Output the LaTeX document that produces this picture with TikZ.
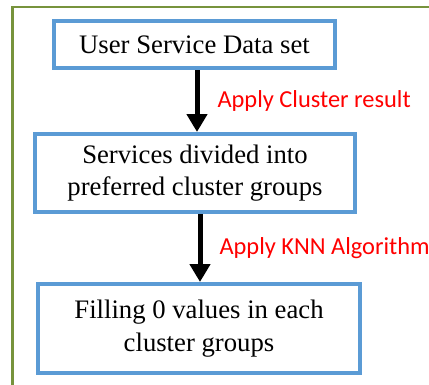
\documentclass[tikz,border=0pt]{standalone}
\usepackage{fontspec}
\setmainfont{Liberation Serif}
\newfontfamily\lblfont{Carlito}
\usepackage{xcolor}
\usetikzlibrary{positioning,arrows.meta}

\definecolor{framegreen}{HTML}{77933C}
\definecolor{boxblue}{HTML}{5B9BD5}

\tikzset{
	stepbox/.style={draw=boxblue, line width=4bp, fill=white, align=center, inner sep=0pt,
		font=\fontsize{26.8}{32.5}\selectfont},
	flow/.style={line width=5bp, -{Triangle[width=20bp,length=18bp]}},
	lbl/.style={text=red, inner sep=0pt, font=\lblfont\fontsize{24.5}{28}\selectfont}
}

\begin{document}
\begin{tikzpicture}[x=1bp, y=-1bp]
			\useasboundingbox (0,0) rectangle (429,385);
			\clip (0,0) rectangle (429,385);
			% outer frame
			\draw [framegreen, line width=2.5bp] (12.5,7) rectangle (460,420);
			% boxes
			\node[stepbox, minimum width=281bp, minimum height=47bp] (data) at (194.5,44.5)
				{User Service Data set};
			\node[stepbox, minimum width=320bp, minimum height=78bp] (groups) at (195,173)
				{Services divided into\\preferred cluster groups};
			\node[stepbox, minimum width=322bp, minimum height=89bp] (fill) at (199,328.5)
				{Filling 0 values in each\\cluster groups};
			% arrows
			\draw [flow] ([xshift=2.5bp]data.south) -- node[lbl, right=18bp] (clu) {Apply Cluster result}
				([xshift=2.5bp]data.south |- groups.north);
			\draw [flow] ([xshift=5bp]groups.south) -- node[lbl, right=17bp] (knn) {Apply KNN Algorithm}
				([xshift=5bp]groups.south |- fill.north);
		\end{tikzpicture}
\end{document}
